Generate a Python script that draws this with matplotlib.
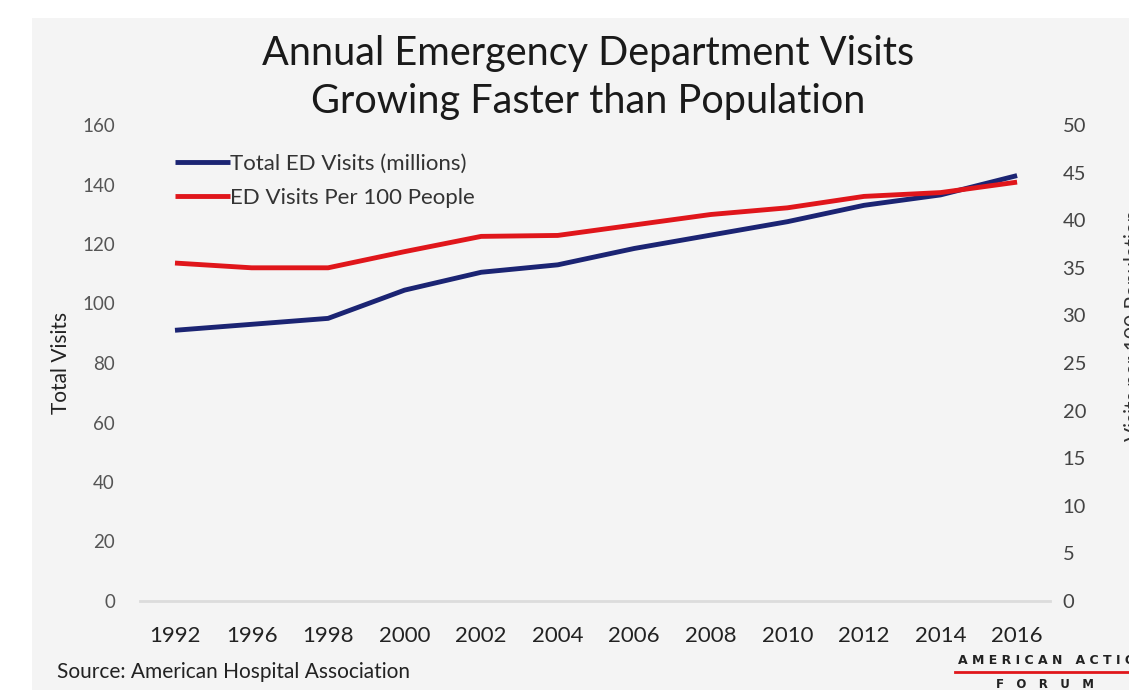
import matplotlib.pyplot as plt
from matplotlib.patches import Rectangle

# Данные графика
years = ["1992", "1996", "1998", "2000", "2002", "2004", "2006",
         "2008", "2010", "2012", "2014", "2016"]
total_visits = [91, 93, 95, 104.5, 110.5, 113, 118.5, 123, 127.5, 133, 136.5, 143]
visits_per_100 = [35.5, 35.0, 35.0, 36.7, 38.3, 38.4, 39.5, 40.6, 41.3, 42.5, 42.9, 44.0]

left_ticks = [0, 20, 40, 60, 80, 100, 120, 140, 160]
right_ticks = [0, 5, 10, 15, 20, 25, 30, 35, 40, 45, 50]

blue = "#1b2473"
red = "#e0161b"
font = "Lato"

fig = plt.figure(figsize=(11.29, 6.93), dpi=100)
fig.patch.set_facecolor("white")
# серая подложка
fig.patches.append(Rectangle((32 / 1129, 3 / 693), 1.0, 672 / 693,
                             transform=fig.transFigure, facecolor="#f4f4f4",
                             edgecolor="none", zorder=-10))

ax = fig.add_axes([140 / 1129, 1 - 601 / 693, 910 / 1129, 476 / 693])
ax.set_facecolor("none")
ax2 = ax.twinx()

x = list(range(len(years)))
l1, = ax.plot(x, total_visits, color=blue, lw=3.5, solid_capstyle="butt")
l2, = ax2.plot(x, visits_per_100, color=red, lw=3.5, solid_capstyle="butt")

ax.set_xlim(-0.457, 11.43)
ax.set_ylim(0, 160)
ax2.set_ylim(0, 50)
ax.set_xticks(x)
ax.set_xticklabels(years, fontsize=16, color="#222222", family=font)
ax.set_yticks(left_ticks)
ax.set_yticklabels([str(t) for t in left_ticks], fontsize=13.5, color="#555555", family=font)
ax2.set_yticks(right_ticks)
ax2.set_yticklabels([str(t) for t in right_ticks], fontsize=14.5, color="#444444", family=font)

for a in (ax, ax2):
    for s in a.spines.values():
        s.set_visible(False)
    a.tick_params(length=0)
ax.tick_params(axis="x", pad=18)
ax.tick_params(axis="y", pad=18)
ax2.tick_params(axis="y", pad=9)
ax.axhline(0, color="#dcdcdc", lw=2, clip_on=False, zorder=1)

ax.set_ylabel("Total Visits", fontsize=15, color="#222222", family=font, labelpad=8)
fig.text(1124 / 1129, 0.53, "Visits per 100 Population", rotation=90, fontsize=15,
         color="#333333", family=font, ha="left", va="center")

fig.text(588 / 1129, 1 - 54 / 693, "Annual Emergency Department Visits",
         ha="center", va="center", fontsize=28.5, color="#1a1a1a", family=font)
fig.text(588 / 1129, 1 - 102 / 693, "Growing Faster than Population",
         ha="center", va="center", fontsize=28.5, color="#1a1a1a", family=font)

leg = ax.legend([l1, l2], ["Total ED Visits (millions)", "ED Visits Per 100 People"],
                loc="upper left", bbox_to_anchor=(0.016, 0.982), frameon=False,
                handlelength=2.5, handletextpad=0.0, labelspacing=0.63,
                prop={"family": font, "size": 16})
for t in leg.get_texts():
    t.set_color("#333333")

fig.text(57 / 1129, 1 - 672 / 693, "Source: American Hospital Association",
         fontsize=15, color="#222222", family=font, va="center")

# логотип
fig.text(958 / 1129, 1 - 660 / 693, "A M E R I C A N   A C T I O N",
         fontsize=9, fontweight="bold", color="#222222", family="DejaVu Sans",
         va="center")
fig.add_artist(plt.Line2D([955 / 1129, 1.0], [1 - 672 / 693, 1 - 672 / 693],
                          color=red, lw=2, transform=fig.transFigure))
fig.text(1045 / 1129, 1 - 684 / 693, "F   O   R   U   M", fontsize=8.5,
         fontweight="bold", color="#222222", family="DejaVu Sans",
         va="center", ha="center")

fig.savefig("out.png", dpi=100)
